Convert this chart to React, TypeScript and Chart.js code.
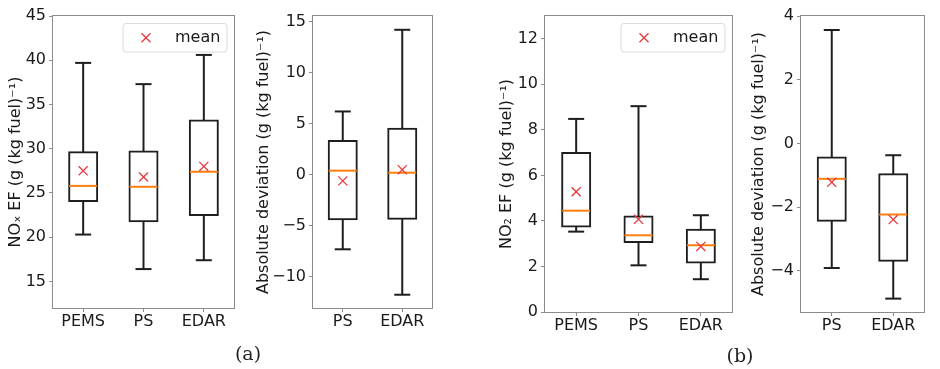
import React, { useEffect, useRef } from 'react';
import { Chart, registerables } from 'chart.js';

Chart.register(...registerables);

// ---------- data ----------
// (a) left: NOx emission factor
const noxCategories = ['PEMS', 'PS', 'EDAR'];
const noxLow = [20.3, 16.4, 17.4];
const noxQ1 = [24.1, 21.8, 22.5];
const noxMedian = [25.8, 25.7, 27.4];
const noxQ3 = [29.6, 29.7, 33.2];
const noxHigh = [39.7, 37.3, 40.6];
const noxMean = [27.5, 26.8, 28.0];
const noxTicks = [15, 20, 25, 30, 35, 40, 45];

// (a) right: NOx absolute deviation
const noxDevCategories = ['PS', 'EDAR'];
const noxDevLow = [-7.3, -11.75];
const noxDevQ1 = [-4.35, -4.3];
const noxDevMedian = [0.4, 0.2];
const noxDevQ3 = [3.3, 4.5];
const noxDevHigh = [6.2, 14.2];
const noxDevMean = [-0.6, 0.5];
const noxDevTicks = [-10, -5, 0, 5, 10, 15];

// (b) left: NO2 emission factor
const no2Categories = ['PEMS', 'PS', 'EDAR'];
const no2Low = [3.53, 2.05, 1.44];
const no2Q1 = [3.75, 3.07, 2.17];
const no2Median = [4.45, 3.37, 2.93];
const no2Q3 = [6.98, 4.19, 3.61];
const no2High = [8.48, 9.04, 4.25];
const no2Mean = [5.28, 4.07, 2.88];
const no2Ticks = [0, 2, 4, 6, 8, 10, 12];

// (b) right: NO2 absolute deviation
const no2DevCategories = ['PS', 'EDAR'];
const no2DevLow = [-3.91, -4.87];
const no2DevQ1 = [-2.43, -3.68];
const no2DevMedian = [-1.11, -2.23];
const no2DevQ3 = [-0.44, -0.97];
const no2DevHigh = [3.56, -0.37];
const no2DevMean = [-1.22, -2.39];
const no2DevTicks = [-4, -2, 0, 2, 4];

const TEXT = '#1a1a1a';
const LINE = '#1e1e1e';
const SPINE = '#8c8c8c';
const MEDIAN = '#ff7f0e';
const MEAN = '#e8383d';
const FONT = "'DejaVu Sans', sans-serif";

Chart.defaults.font.family = FONT;

const framePlugin = {
  id: 'frame',
  afterDatasetsDraw(chart: any) {
    const { ctx, chartArea: a } = chart;
    ctx.save();
    ctx.strokeStyle = SPINE;
    ctx.lineWidth = 1;
    const l = Math.round(a.left) - 0.5;
    const t = Math.round(a.top) - 0.5;
    const r = Math.round(a.right) + 0.5;
    const b = Math.round(a.bottom) + 0.5;
    ctx.strokeRect(l, t, r - l, b - t);
    ctx.restore();
  },
};

const meanLegendPlugin = {
  id: 'meanLegend',
  afterDraw(chart: any, _args: any, opts: any) {
    if (!opts || !opts.show) return;
    const ds = chart.data.datasets.find((d: any) => d.label === 'mean');
    if (!ds) return;
    const { ctx, chartArea: a } = chart;
    const w = 104;
    const h = 28.5;
    const x = a.right - opts.right - w;
    const y = a.top + opts.top;
    const rad = 3;
    ctx.save();
    ctx.beginPath();
    ctx.moveTo(x + rad, y);
    ctx.lineTo(x + w - rad, y);
    ctx.arcTo(x + w, y, x + w, y + rad, rad);
    ctx.lineTo(x + w, y + h - rad);
    ctx.arcTo(x + w, y + h, x + w - rad, y + h, rad);
    ctx.lineTo(x + rad, y + h);
    ctx.arcTo(x, y + h, x, y + h - rad, rad);
    ctx.lineTo(x, y + rad);
    ctx.arcTo(x, y, x + rad, y, rad);
    ctx.closePath();
    ctx.fillStyle = 'rgba(255,255,255,0.9)';
    ctx.fill();
    ctx.strokeStyle = '#dadada';
    ctx.lineWidth = 1;
    ctx.stroke();
    // marker
    const cx = x + 23;
    const cy = y + h / 2;
    const e = 4.5;
    ctx.beginPath();
    ctx.moveTo(cx - e, cy - e);
    ctx.lineTo(cx + e, cy + e);
    ctx.moveTo(cx - e, cy + e);
    ctx.lineTo(cx + e, cy - e);
    ctx.strokeStyle = ds.pointBorderColor;
    ctx.lineWidth = ds.pointBorderWidth;
    ctx.stroke();
    ctx.fillStyle = TEXT;
    ctx.font = `16px ${FONT}`;
    ctx.textBaseline = 'middle';
    ctx.textAlign = 'left';
    ctx.fillText(ds.label, x + 52, cy + 0.5);
    ctx.restore();
  },
};

const fmt = (v: number) => (v < 0 ? '\u2212' + String(Math.abs(v)) : String(v));

type PanelProps = {
  categories: string[];
  low: number[];
  q1: number[];
  median: number[];
  q3: number[];
  high: number[];
  mean: number[];
  ticks: number[];
  yMin: number;
  yMax: number;
  yTitle: string;
  left: number;
  width: number;
  yAxisWidth: number;
  padTop: number;
  padRight: number;
  areaBottom: number;
  titleCenter: number;
  legend: boolean;
};

const H = 369;
const XAXIS_H = 40;

function BoxPanel(p: PanelProps) {
  const ref = useRef<HTMLCanvasElement>(null);
  useEffect(() => {
    const titlePad = p.titleCenter - p.left - 9.6;
    const chart = new Chart(ref.current as HTMLCanvasElement, {
      type: 'bar',
      data: {
        labels: p.categories,
        datasets: [
          {
            type: 'line',
            label: 'mean',
            data: p.mean,
            showLine: false,
            pointStyle: 'crossRot',
            pointRadius: 6.4,
            pointBorderColor: MEAN,
            pointBackgroundColor: 'transparent',
            pointBorderWidth: 1.3,
            order: 1,
          } as any,
          {
            type: 'line',
            label: 'median',
            data: p.median,
            showLine: false,
            pointStyle: 'line',
            pointRadius: 14,
            pointBorderColor: MEDIAN,
            pointBorderWidth: 2,
            order: 2,
          } as any,
          {
            type: 'line',
            label: 'capHigh',
            data: p.high,
            showLine: false,
            pointStyle: 'line',
            pointRadius: 8,
            pointBorderColor: LINE,
            pointBorderWidth: 2,
            order: 3,
          } as any,
          {
            type: 'line',
            label: 'capLow',
            data: p.low,
            showLine: false,
            pointStyle: 'line',
            pointRadius: 8,
            pointBorderColor: LINE,
            pointBorderWidth: 2,
            order: 3,
          } as any,
          {
            type: 'bar',
            label: 'box',
            data: p.q1.map((v, i) => [v, p.q3[i]]),
            backgroundColor: '#ffffff',
            borderColor: LINE,
            borderWidth: 2,
            borderSkipped: false,
            barThickness: 28,
            inflateAmount: 1,
            grouped: false,
            order: 4,
          } as any,
          {
            type: 'bar',
            label: 'whisker',
            data: p.low.map((v, i) => [v, p.high[i]]),
            backgroundColor: LINE,
            borderWidth: 0,
            barThickness: 2,
            inflateAmount: 0,
            grouped: false,
            order: 5,
          } as any,
        ],
      },
      options: {
        animation: false,
        responsive: false,
        events: [],
        layout: {
          padding: {
            top: p.padTop,
            right: p.padRight,
            bottom: H - p.areaBottom - XAXIS_H,
            left: 0,
          },
        },
        plugins: {
          legend: { display: false },
          tooltip: { enabled: false },
          meanLegend: { show: p.legend, right: 7, top: 7.5 },
        } as any,
        scales: {
          x: {
            type: 'category',
            offset: true,
            grid: {
              offset: false,
              drawOnChartArea: false,
              drawTicks: true,
              tickLength: 4,
              color: SPINE,
            },
            border: { display: false },
            ticks: {
              color: TEXT,
              padding: 0,
              font: { size: 16, family: FONT, lineHeight: 1.2 },
              maxRotation: 0,
            },
            afterFit(scale: any) {
              scale.height = XAXIS_H;
            },
          },
          y: {
            type: 'linear',
            min: p.yMin,
            max: p.yMax,
            bounds: 'data',
            grid: {
              drawOnChartArea: false,
              drawTicks: true,
              tickLength: 4,
              color: SPINE,
            },
            border: { display: false },
            ticks: {
              color: TEXT,
              padding: 3,
              font: { size: 16, family: FONT, lineHeight: 0.2 },
              callback: (v: any) => fmt(Number(v)),
            },
            title: {
              display: true,
              text: p.yTitle,
              color: TEXT,
              font: { size: 16, family: FONT, lineHeight: 1.2 },
              padding: { top: titlePad, bottom: 0 },
            },
            afterBuildTicks(scale: any) {
              scale.ticks = p.ticks.map((v) => ({ value: v }));
            },
            afterFit(scale: any) {
              scale.width = p.yAxisWidth;
            },
          },
        } as any,
      },
      plugins: [framePlugin, meanLegendPlugin],
    });
    return () => chart.destroy();
  }, []);
  return (
    <canvas
      ref={ref}
      width={p.width}
      height={H}
      style={{ position: 'absolute', left: p.left, top: 0, width: p.width, height: H }}
    />
  );
}

const captionStyle = (cx: number, cy: number): React.CSSProperties => ({
  position: 'absolute',
  left: cx - 30,
  top: cy - 11,
  width: 60,
  height: 22,
  lineHeight: '22px',
  textAlign: 'center',
  fontFamily: "'DejaVu Serif', serif",
  fontSize: 19,
  color: '#222',
});

export default function App() {
  useEffect(() => {
    document.body.style.margin = '0';
  }, []);
  return (
    <div style={{ position: 'absolute', left: 0, top: 0, width: 940, height: 369, background: '#fff', overflow: 'hidden' }}>
      <BoxPanel
        categories={noxCategories}
        low={noxLow}
        q1={noxQ1}
        median={noxMedian}
        q3={noxQ3}
        high={noxHigh}
        mean={noxMean}
        ticks={noxTicks}
        yMin={12}
        yMax={45}
        yTitle={'NO\u2093 EF (g (kg fuel)\u207B\u00B9)'}
        left={0}
        width={250}
        yAxisWidth={53}
        padTop={10}
        padRight={7.5}
        areaBottom={308}
        titleCenter={15.5}
        legend={true}
      />
      <BoxPanel
        categories={noxDevCategories}
        low={noxDevLow}
        q1={noxDevQ1}
        median={noxDevMedian}
        q3={noxDevQ3}
        high={noxDevHigh}
        mean={noxDevMean}
        ticks={noxDevTicks}
        yMin={-13.05}
        yMax={15.55}
        yTitle={'Absolute deviation (g (kg fuel)\u207B\u00B9)'}
        left={250}
        width={198}
        yAxisWidth={63}
        padTop={9}
        padRight={7}
        areaBottom={308}
        titleCenter={264}
        legend={false}
      />
      <BoxPanel
        categories={no2Categories}
        low={no2Low}
        q1={no2Q1}
        median={no2Median}
        q3={no2Q3}
        high={no2High}
        mean={no2Mean}
        ticks={no2Ticks}
        yMin={0}
        yMax={13}
        yTitle={'NO\u2082 EF (g (kg fuel)\u207B\u00B9)'}
        left={448}
        width={300}
        yAxisWidth={97}
        padTop={6}
        padRight={6}
        areaBottom={312}
        titleCenter={507}
        legend={true}
      />
      <BoxPanel
        categories={no2DevCategories}
        low={no2DevLow}
        q1={no2DevQ1}
        median={no2DevMedian}
        q3={no2DevQ3}
        high={no2DevHigh}
        mean={no2DevMean}
        ticks={no2DevTicks}
        yMin={-5.29}
        yMax={4}
        yTitle={'Absolute deviation (g (kg fuel)\u207B\u00B9)'}
        left={748}
        width={192}
        yAxisWidth={53}
        padTop={6}
        padRight={8}
        areaBottom={312}
        titleCenter={759}
        legend={false}
      />
      <div style={captionStyle(248, 353)}>(a)</div>
      <div style={captionStyle(740, 355)}>(b)</div>
    </div>
  );
}
